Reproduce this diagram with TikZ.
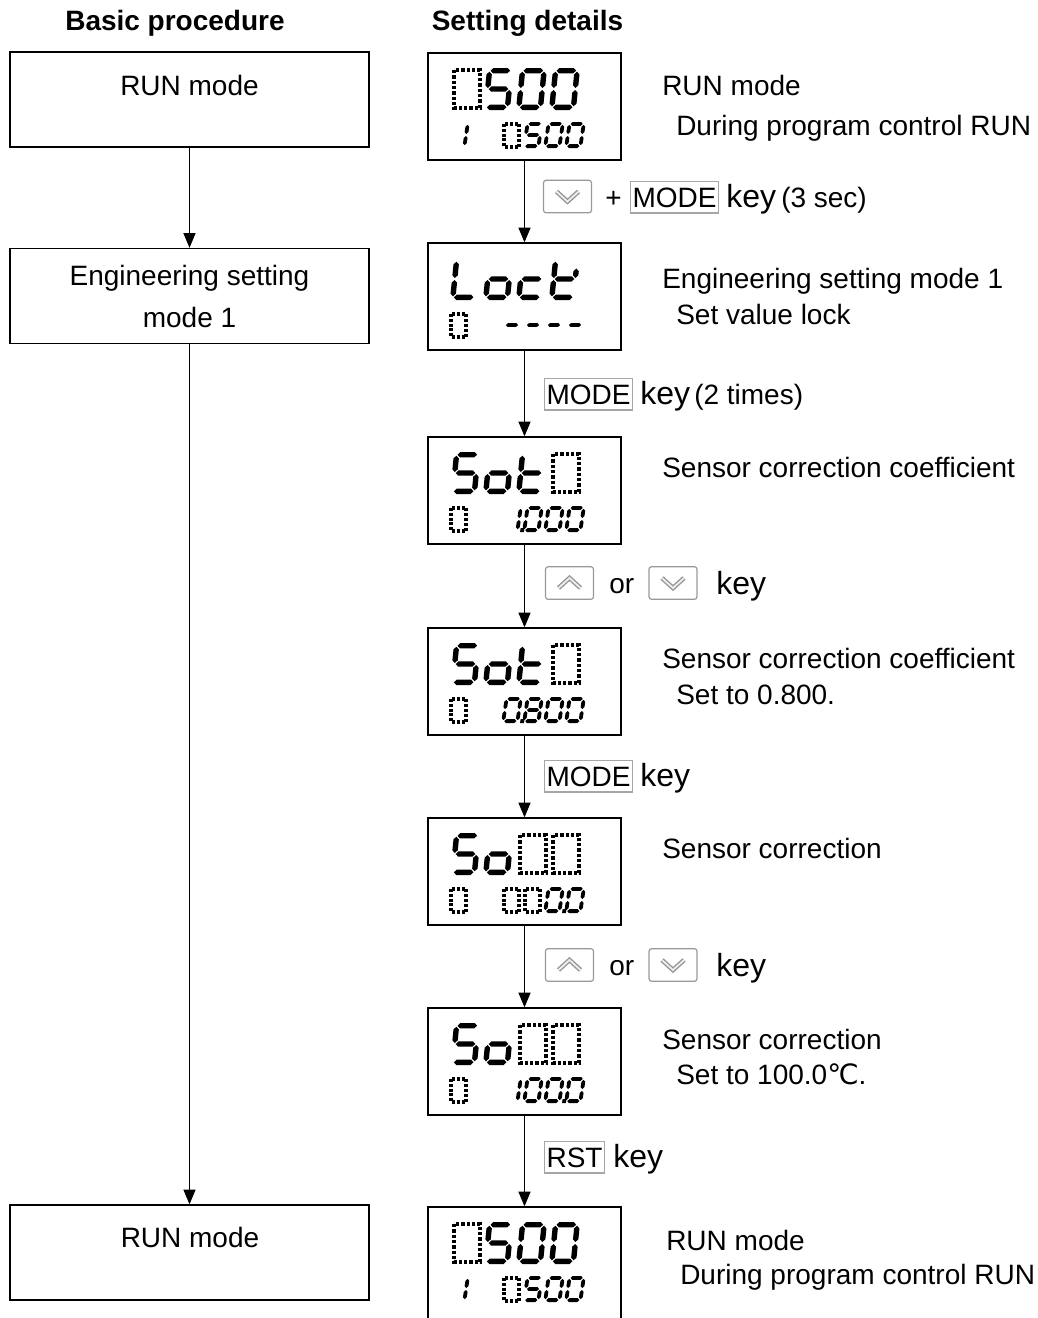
\documentclass[tikz,border=0pt]{standalone}
\usepackage{fontspec}
\setmainfont{Liberation Sans}
\newfontfamily\symfont{DejaVu Sans}
\usetikzlibrary{arrows.meta}

% seven segment pieces (hexagonal bars)
\newcommand\hseg[3]{\fill (#1,#3) -- (#1+\lt,#3-\lt) -- (#2-\lt,#3-\lt) -- (#2,#3) -- (#2-\lt,#3+\lt) -- (#1+\lt,#3+\lt) -- cycle;}
\newcommand\vseg[3]{\fill (#1,#2) -- (#1+\lt,#2+\lt) -- (#1+\lt,#3-\lt) -- (#1,#3) -- (#1-\lt,#3-\lt) -- (#1-\lt,#2+\lt) -- cycle;}
\def\lcda{\hseg{\xa+1}{\xb-1}{\ya}}
\def\lcdb{\vseg{\xb}{\ya+1}{\ym-1}}
\def\lcdc{\vseg{\xb}{\ym+1}{\yb-1}}
\def\lcdd{\hseg{\xa+1}{\xb-1}{\yb}}
\def\lcde{\vseg{\xa}{\ym+1}{\yb-1}}
\def\lcdf{\vseg{\xa}{\ya+1}{\ym-1}}
\def\lcdg{\hseg{\xa+1}{\xb-1}{\ym}}
\def\lcdk{\vseg{\xb}{\ym-\lh/4}{\ym-1}}
\def\lcdp{\fill (\lw+1,\lh) rectangle (\lw+1+2*\lt,\lh-2*\lt);}

% x, y, width, height, thickness, slant, segments
\newcommand\lcdchar[7]{%
  \begin{scope}[shift={({#1+#6*#4/2},{#2})}, xslant=#6]
    \pgfmathsetmacro\lw{#3}\pgfmathsetmacro\lh{#4}\pgfmathsetmacro\lt{#5/2}
    \pgfmathsetmacro\xa{\lt}\pgfmathsetmacro\xb{\lw-\lt}
    \pgfmathsetmacro\ya{\lt}\pgfmathsetmacro\yb{\lh-\lt}\pgfmathsetmacro\ym{\lh/2}
    \foreach \s in {#7} {\csname lcd\s\endcsname}
  \end{scope}}
% column, display top, segments
\newcommand\bigd[3]{\lcdchar{452+33*#1}{#2+15}{27}{42}{5.4}{0.1}{#3}}
\newcommand\smalld[3]{\pgfmathsetmacro\sx{#1==0 ? 450 : 482+21*#1}%
  \lcdchar{\sx}{#2+69}{18}{26}{3.8}{0.15}{#3}}
\newcommand\bigblank[2]{\draw[bigdot] ({452+33*#1+2},{#2+17}) rectangle ++(26,38);}
\newcommand\smallblank[2]{\pgfmathsetmacro\sx{#1==0 ? 450 : 482+21*#1}%
  \draw[smalldot] (\sx+1,#2+71) rectangle ++(15,23);}
% name, x, y, direction (1 down, -1 up)
\newcommand\keyicon[4]{%
  \node[keybox] (#1) at (#2,#3) {};
  \draw[chev] ([shift={(-11,{-5*(#4)})}]#1.center) -- ([shift={(0,{5*(#4)})}]#1.center) -- ([shift={(11,{-5*(#4)})}]#1.center);
  \draw[chevin] ([shift={(-11,{-5*(#4)})}]#1.center) -- ([shift={(0,{5*(#4)})}]#1.center) -- ([shift={(11,{-5*(#4)})}]#1.center);}

\begin{document}
\begin{tikzpicture}[x=0.75pt, y=-0.75pt, >={Triangle[width=9pt,length=11pt]},
  txt/.style={font=\fontsize{21}{31.5}\selectfont, inner sep=0pt, anchor=base west},
  keytxt/.style={font=\fontsize{24}{28}\selectfont, inner sep=0pt, anchor=base west},
  headtxt/.style={font=\fontsize{21}{25}\selectfont\bfseries, inner sep=0pt, anchor=base},
  procbox/.style={draw, line width=1pt, minimum width=269.25pt, minimum height=71.25pt,
    font=\fontsize{21}{31.5}\selectfont},
  dispbox/.style={draw, line width=1pt, minimum width=144.75pt, minimum height=80.25pt},
  keyword/.style={draw=gray!70, line width=0.8pt, font=\fontsize{21}{25}\selectfont,
    inner xsep=1.5pt, inner ysep=4.5pt, text depth=0pt, anchor=base west},
  keybox/.style={draw=gray!80, line width=0.9pt, rounded corners=2pt, minimum width=36pt,
    minimum height=24.5pt, inner sep=0pt},
  chev/.style={draw=gray!85, line width=3.4pt},
  chevin/.style={draw=gray!15, line width=1.4pt},
  bigdot/.style={line width=2.8pt, dash pattern=on 2.6pt off 1.4pt},
  smalldot/.style={line width=2.4pt, dash pattern=on 2.3pt off 1.3pt},
  flow/.style={->, line width=0.8pt}]
  \useasboundingbox (0,0) rectangle (1038,1318);

  % headings
  \node[headtxt] (hbasic) at (175,30) {Basic procedure};
  \node[headtxt] (hset) at (527.5,30) {Setting details};

  % basic procedure
  \node[procbox] (b1) at (189.5,99.5) {};
  \node[txt, anchor=base] (b1t) at (189.5,95) {RUN mode};
  \node[procbox, align=center] (b2) at (189.5,296) {Engineering setting\\mode 1};
  \node[procbox] (b3) at (189.5,1252.5) {};
  \node[txt, anchor=base] (b3t) at (190,1247) {RUN mode};
  \draw[flow] (b1) -- (b2);
  \draw[flow] (b2) -- (b3);

  % displays
  \node[dispbox] (d1) at (524.5,106.5) {};
  \node[dispbox] (d2) at (524.5,296.5) {};
  \node[dispbox] (d3) at (524.5,490.5) {};
  \node[dispbox] (d4) at (524.5,681.5) {};
  \node[dispbox] (d5) at (524.5,871.5) {};
  \node[dispbox] (d6) at (524.5,1061.5) {};
  \node[dispbox, minimum height=87pt] (d7) at (524.5,1265) {};
  \draw[flow] (d1) -- (d2);
  \draw[flow] (d2) -- (d3);
  \draw[flow] (d3) -- (d4);
  \draw[flow] (d4) -- (d5);
  \draw[flow] (d5) -- (d6);
  \draw[flow] (d6) -- (d7);

  % display 1 and 7: 0500 / 1 0500
  \foreach \T in {53,1207} {
    \bigblank{0}{\T}
    \bigd{1}{\T}{a,f,g,c,d}
    \bigd{2}{\T}{a,b,c,d,e,f}
    \bigd{3}{\T}{a,b,c,d,e,f}
    \smalld{0}{\T}{b,c}
    \smallblank{1}{\T}
    \smalld{2}{\T}{a,f,g,c,d}
    \smalld{3}{\T}{a,b,c,d,e,f}
    \smalld{4}{\T}{a,b,c,d,e,f}
  }
  % display 2: Lock
  \bigd{0}{243}{f,e,d}
  \bigd{1}{243}{c,d,e,g}
  \bigd{2}{243}{g,e,d}
  \bigd{3}{243}{f,e,g,d,k}
  \smallblank{0}{243}
  \foreach \c in {1,...,4} {\smalld{\c}{243}{g}}
  % display 3: Sot 1.000
  \bigd{0}{437}{a,f,g,c,d}
  \bigd{1}{437}{c,d,e,g}
  \bigd{2}{437}{f,e,g,d}
  \bigblank{3}{437}
  \smallblank{0}{437}
  \smalld{1}{437}{b,c,p}
  \foreach \c in {2,...,4} {\smalld{\c}{437}{a,b,c,d,e,f}}
  % display 4: Sot 0.800
  \bigd{0}{628}{a,f,g,c,d}
  \bigd{1}{628}{c,d,e,g}
  \bigd{2}{628}{f,e,g,d}
  \bigblank{3}{628}
  \smallblank{0}{628}
  \smalld{1}{628}{a,b,c,d,e,f,p}
  \smalld{2}{628}{a,b,c,d,e,f,g}
  \smalld{3}{628}{a,b,c,d,e,f}
  \smalld{4}{628}{a,b,c,d,e,f}
  % display 5: So 00.0
  \bigd{0}{818}{a,f,g,c,d}
  \bigd{1}{818}{c,d,e,g}
  \bigblank{2}{818}
  \bigblank{3}{818}
  \smallblank{0}{818}
  \smallblank{1}{818}
  \smallblank{2}{818}
  \smalld{3}{818}{a,b,c,d,e,f,p}
  \smalld{4}{818}{a,b,c,d,e,f}
  % display 6: So 100.0
  \bigd{0}{1008}{a,f,g,c,d}
  \bigd{1}{1008}{c,d,e,g}
  \bigblank{2}{1008}
  \bigblank{3}{1008}
  \smallblank{0}{1008}
  \smalld{1}{1008}{b,c}
  \smalld{2}{1008}{a,b,c,d,e,f}
  \smalld{3}{1008}{a,b,c,d,e,f,p}
  \smalld{4}{1008}{a,b,c,d,e,f}

  % key operations
  \keyicon{k1}{567.5}{196.5}{1}
  \node[txt] (plus1) at (605,207) {+};
  \node[keyword] (mode1) at (630,207) {MODE};
  \node[keytxt] (key1) at (726,207) {key};
  \node[txt] (sec1) at (781,207) {(3 sec)};

  \node[keyword] (mode2) at (544,404) {MODE};
  \node[keytxt] (key2) at (640,404) {key};
  \node[txt] (times2) at (694,404) {(2 times)};

  \keyicon{k3u}{569.5}{583}{-1}
  \node[txt] (or3) at (609,593) {or};
  \keyicon{k3d}{673}{583}{1}
  \node[keytxt] (key3) at (716,594) {key};

  \node[keyword] (mode4) at (544,786) {MODE};
  \node[keytxt] (key4) at (640,786) {key};

  \keyicon{k5u}{569.5}{965}{-1}
  \node[txt] (or5) at (609,975) {or};
  \keyicon{k5d}{673}{965}{1}
  \node[keytxt] (key5) at (716,976) {key};

  \node[keyword] (rst6) at (544,1167) {RST};
  \node[keytxt] (key6) at (613,1167) {key};

  % setting details
  \node[txt] (s1a) at (662,95) {RUN mode};
  \node[txt] (s1b) at (676,135) {During program control RUN};
  \node[txt] (s2a) at (662,288) {Engineering setting mode 1};
  \node[txt] (s2b) at (676,324) {Set value lock};
  \node[txt] (s3a) at (662,477) {Sensor correction coefficient};
  \node[txt] (s4a) at (662,668) {Sensor correction coefficient};
  \node[txt] (s4b) at (676,704) {Set to 0.800.};
  \node[txt] (s5a) at (662,858) {Sensor correction};
  \node[txt] (s6a) at (662,1049) {Sensor correction};
  \node[txt] (s6b) at (676,1084) {Set to 100.0{\symfont ℃}.};
  \node[txt] (s7a) at (666,1250) {RUN mode};
  \node[txt] (s7b) at (680,1284) {During program control RUN};
\end{tikzpicture}
\end{document}
